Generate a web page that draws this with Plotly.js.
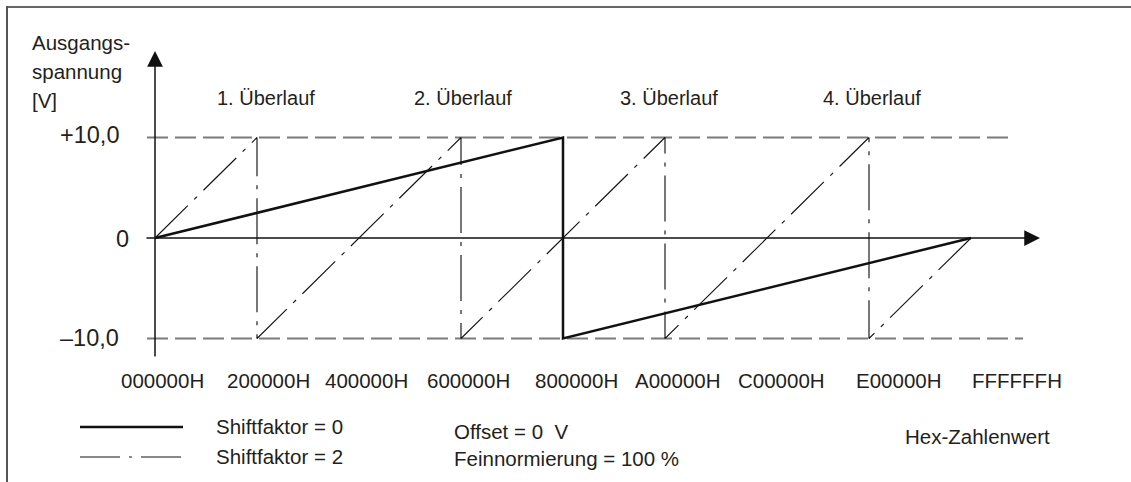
<!DOCTYPE html>
<html>
<head>
<meta charset="utf-8">
<script src="https://cdn.plot.ly/plotly-3.0.1.min.js"></script>
<style>html,body{margin:0;padding:0;background:#fff;}#chart{width:1131px;height:482px;}</style>
</head>
<body>
<div id="chart"></div>
<script>
// ---- data ----
const xTickVals = [0x000000, 0x200000, 0x400000, 0x600000, 0x800000, 0xA00000, 0xC00000, 0xE00000, 0xFFFFFF];
const xTickText = ['000000H', '200000H', '400000H', '600000H', '800000H', 'A00000H', 'C00000H', 'E00000H', 'FFFFFFH'];
const yTickVals = [10, 0, -10];
const yTickText = ['+10,0', '0', '\u201310,0'];
const shift0X = [0x000000, 0x800000, 0x800000, 0xFFFFFF];
const shift0Y = [0, 10, -10, 0];
const shift2X = [0x000000, 0x200000, 0x200000, 0x600000, 0x600000, 0xA00000, 0xA00000, 0xE00000, 0xE00000, 0xFFFFFF];
const shift2Y = [0, 10, -10, 10, -10, 10, -10, 10, -10, 0];
const overflowX = [0x200000, 0x600000, 0xA00000, 0xE00000];
const overflowText = ['1. \u00dcberlauf', '2. \u00dcberlauf', '3. \u00dcberlauf', '4. \u00dcberlauf'];
const limitY = [10, -10];
const legendText = ['Shiftfaktor = 0', 'Shiftfaktor = 2'];
const noteText = ['Offset = 0\u00a0 V', 'Feinnormierung = 100 %'];
const xTitle = 'Hex-Zahlenwert';
const yTitle = ['Ausgangs-', 'spannung', '[V]'];

// ---- layout geometry (pixels) ----
const W = 1131, H = 482;
const X0 = 155, PX_PER_UNIT = 102 / 0x200000;   // x: data -> px
const Y0 = 238, PX_PER_V = 10.05;              // y: data -> px
const dx = p => (p - X0) / PX_PER_UNIT;          // px -> data x
const dy = p => (Y0 - p) / PX_PER_V;             // px -> data y
const PX = p => p / W, PY = p => 1 - p / H;      // px -> paper

const FONT = 'Liberation Sans, Arial, Helvetica, sans-serif';
const TXT = '#231f20';
const tickShift = [7, 11, 7, 7, 13, 12, 14, 29, 46];
const yTickShift = [-34, -24, -34];
const overflowShift = [9, 2, 4, 3];
const limitEnd = [1013, 1023];

const traces = [
  {x: shift2X, y: shift2Y, mode: 'lines', line: {color: '#141414', width: 1.15, dash: '46px,9px,4px,9px'}, hoverinfo: 'skip'},
  {x: shift0X, y: shift0Y, mode: 'lines', line: {color: '#111', width: 2.5}, hoverinfo: 'skip'}
];

const shapes = [];
// limit lines +10 / -10
limitY.forEach((v, i) => shapes.push({type: 'line', xref: 'x', yref: 'y', x0: dx(147), x1: dx(limitEnd[i]), y0: v, y1: v,
  line: {color: '#7a7a7a', width: 2, dash: '21px,7px'}, layer: 'below'}));
// frame lines
shapes.push({type: 'line', xref: 'paper', yref: 'paper', x0: PX(7), x1: 1, y0: PY(7), y1: PY(7), line: {color: '#666', width: 2}});
shapes.push({type: 'line', xref: 'paper', yref: 'paper', x0: PX(7), x1: PX(7), y0: PY(6), y1: 0, line: {color: '#555', width: 2}});
// legend samples
shapes.push({type: 'line', xref: 'paper', yref: 'paper', x0: PX(80), x1: PX(183), y0: PY(427), y1: PY(427), line: {color: '#111', width: 2.5}});
shapes.push({type: 'line', xref: 'paper', yref: 'paper', x0: PX(80), x1: PX(183), y0: PY(457), y1: PY(457), line: {color: '#141414', width: 1.15, dash: '40px,9px,3px,9px'}});

const ann = [];
// axes with arrows
ann.push({x: dx(1040), y: 0, ax: dx(145), ay: 0, xref: 'x', yref: 'y', axref: 'x', ayref: 'y', showarrow: true,
  arrowhead: 2, arrowsize: 2.1, arrowwidth: 1.5, arrowcolor: '#111', text: ''});
ann.push({x: 0, y: dy(51), ax: 0, ay: dy(358), xref: 'x', yref: 'y', axref: 'x', ayref: 'y', showarrow: true,
  arrowhead: 2, arrowsize: 2.1, arrowwidth: 1.5, arrowcolor: '#111', text: ''});
// x tick labels
xTickVals.forEach((v, i) => ann.push({x: v, y: dy(380), xref: 'x', yref: 'y', text: xTickText[i], showarrow: false,
  xanchor: 'center', yanchor: 'middle', xshift: tickShift[i], font: {family: FONT, size: 20.5, color: TXT}}));
// y tick labels
const yTickPix = [135, 239, 338];
yTickVals.forEach((v, i) => ann.push({x: 0, y: dy(yTickPix[i]), xref: 'x', yref: 'y', text: yTickText[i], showarrow: false,
  xanchor: 'right', yanchor: 'middle', xshift: yTickShift[i], font: {family: FONT, size: 23.5, color: TXT}}));
// overflow labels
overflowX.forEach((v, i) => ann.push({x: v, y: dy(98), xref: 'x', yref: 'y', text: overflowText[i], showarrow: false,
  xanchor: 'center', yanchor: 'middle', xshift: overflowShift[i], font: {family: FONT, size: 20, color: TXT}}));
// y title
const yTitleY = [42, 71, 100];
yTitle.forEach((t, i) => ann.push({x: PX(30), y: PY(yTitleY[i]), xref: 'paper', yref: 'paper', text: t, showarrow: false,
  xanchor: 'left', yanchor: 'middle', font: {family: FONT, size: 20.5, color: TXT}}));
// legend texts
const legY = [426, 456];
legendText.forEach((t, i) => ann.push({x: PX(214), y: PY(legY[i]), xref: 'paper', yref: 'paper', text: t, showarrow: false,
  xanchor: 'left', yanchor: 'middle', font: {family: FONT, size: 20.5, color: TXT}}));
const noteY = [431, 458];
noteText.forEach((t, i) => ann.push({x: PX(452), y: PY(noteY[i]), xref: 'paper', yref: 'paper', text: t, showarrow: false,
  xanchor: 'left', yanchor: 'middle', font: {family: FONT, size: 20.5, color: TXT}}));
ann.push({x: PX(903), y: PY(436), xref: 'paper', yref: 'paper', text: xTitle, showarrow: false,
  xanchor: 'left', yanchor: 'middle', font: {family: FONT, size: 20.5, color: TXT}});

const layout = {
  width: W, height: H, autosize: false,
  margin: {l: 0, r: 0, t: 0, b: 0, pad: 0},
  paper_bgcolor: '#fff', plot_bgcolor: '#fff',
  showlegend: false,
  xaxis: {range: [dx(0), dx(W)], visible: false, fixedrange: true},
  yaxis: {range: [dy(H), dy(0)], visible: false, fixedrange: true},
  shapes: shapes,
  annotations: ann
};
Plotly.newPlot('chart', traces, layout, {staticPlot: true, displayModeBar: false});
</script>
</body>
</html>
